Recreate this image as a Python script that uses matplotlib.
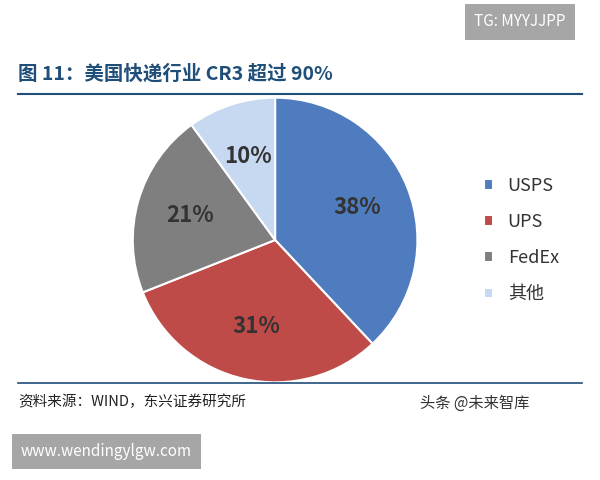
import matplotlib
matplotlib.use("Agg")
import matplotlib.pyplot as plt

plt.rcParams['font.family'] = ['Noto Sans CJK SC', 'DejaVu Sans']

labels = ["USPS", "UPS", "FedEx", "其他"]
shares = [38, 31, 21, 10]
colors = ["#4F7BBF", "#BE4B48", "#7F7F7F", "#C6D9F1"]

fig = plt.figure(figsize=(6, 4.8), dpi=100)

ax = fig.add_axes([0.162, 0.129, 0.593, 0.742])
wedges, texts, autotexts = ax.pie(
    shares, colors=colors, startangle=90, counterclock=False,
    autopct="%d%%", pctdistance=0.62,
    wedgeprops=dict(edgecolor="white", linewidth=1.5),
    textprops=dict(color="#333333", fontsize=16, fontweight="bold"))
ax.set_aspect("equal")
ax.set_zorder(0)

fig.legend(wedges, labels, loc="center left", bbox_to_anchor=(0.78, 0.5),
           frameon=False, fontsize=13, handlelength=0.5, handleheight=0.5,
           labelspacing=1.0, labelcolor="#333333")

# title + rules
fig.text(0.03, 0.835, "图 11：美国快递行业 CR3 超过 90%", fontsize=14,
         fontweight="bold", color="#1F4E79")
fig.add_artist(plt.Line2D([0.03, 0.97], [0.805, 0.805], color="#1F4E79", lw=1.5))
fig.add_artist(plt.Line2D([0.03, 0.97], [0.203, 0.203], color="#1F4E79", lw=1.2))
fig.text(0.03, 0.155, "资料来源：WIND，东兴证券研究所", fontsize=10.5,
         style="italic", color="#222222")
fig.text(0.70, 0.15, "头条 @未来智库", fontsize=11, color="#333333")

# badges
fig.text(0.79, 0.945, "TG: MYYJJPP", fontsize=11, color="white",
         bbox=dict(boxstyle="square,pad=0.6", fc="#A6A6A6", ec="none"))
fig.text(0.035, 0.05, "www.wendingylgw.com", fontsize=11, color="white",
         bbox=dict(boxstyle="square,pad=0.6", fc="#A6A6A6", ec="none"))

fig.savefig("out.png", dpi=100)
